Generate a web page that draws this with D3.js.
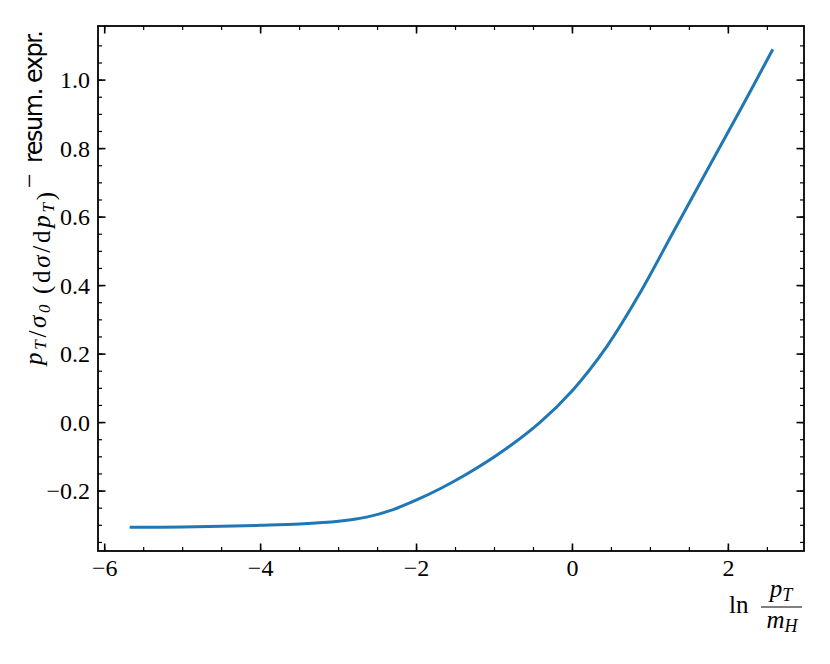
<!DOCTYPE html>
<html>
<head>
  <title>resum</title>
  <script src="https://d3js.org/d3.v7.min.js"></script>
  <style>
    body { margin: 0; background: #fff; }
  </style>
</head>
<body>
  <svg width="830" height="664" id="mainsvg" font-family="'Liberation Serif', serif"></svg>
  <script>
    // curve values
    const lnPt = [-5.68, -5.0, -4.5, -4.0, -3.5, -3.0, -2.64, -2.3, -2.0, -1.68, -1.36, -0.93, -0.42, 0.0, 0.44, 0.86, 1.29, 1.72, 2.15, 2.57];
    const diff = [-0.306, -0.305, -0.303, -0.300, -0.296, -0.288, -0.276, -0.254, -0.226, -0.191, -0.151, -0.089, 0.0, 0.094, 0.222, 0.376, 0.555, 0.734, 0.912, 1.09];
    const xTicks = [-6, -4, -2, 0, 2];
    const yTicks = [-0.2, 0.0, 0.2, 0.4, 0.6, 0.8, 1.0];

    const svg = d3.select('#mainsvg');
    const SERIF = "'Liberation Serif', serif";
    const mLeft = 98, mRight = 804, mTop = 26, mBottom = 551;

    const x = d3.scaleLinear().domain([-6.086, 2.97]).range([mLeft, mRight]);
    const y = d3.scaleLinear().domain([-0.375, 1.158]).range([mBottom, mTop]);

    const fmtX = d => d < 0 ? '\u2212' + Math.abs(d) : '' + d;
    const fmtY = d => (d < 0 ? '\u2212' : '') + Math.abs(d).toFixed(1);

    const xMinor = d3.range(-6, 3.0001, 0.5).filter(v => x(v) >= mLeft && x(v) <= mRight);
    const yMinor = d3.range(-0.35, 1.15, 0.05).filter(v => y(v) <= mBottom && y(v) >= mTop);

    // ticks, inward on all four sides
    const tickG = svg.append('g').attr('stroke', '#000');
    function ticks(vals, len, w) {
      vals.forEach(v => {
        const px = x(v);
        tickG.append('line').attr('x1', px).attr('x2', px).attr('y1', mBottom).attr('y2', mBottom - len).attr('stroke-width', w);
        tickG.append('line').attr('x1', px).attr('x2', px).attr('y1', mTop).attr('y2', mTop + len).attr('stroke-width', w);
      });
    }
    function yticks(vals, len, w) {
      vals.forEach(v => {
        const py = y(v);
        tickG.append('line').attr('y1', py).attr('y2', py).attr('x1', mLeft).attr('x2', mLeft + len).attr('stroke-width', w);
        tickG.append('line').attr('y1', py).attr('y2', py).attr('x1', mRight).attr('x2', mRight - len).attr('stroke-width', w);
      });
    }
    ticks(xMinor, 4, 1.2);
    ticks(xTicks, 7.5, 1.6);
    yticks(yMinor, 4, 1.2);
    yticks(yTicks, 7.5, 1.6);

    // curve
    const line = d3.line().x(d => x(d[0])).y(d => y(d[1])).curve(d3.curveCatmullRom.alpha(0.5));
    svg.append('path')
      .datum(d3.zip(lnPt, diff))
      .attr('d', line)
      .attr('fill', 'none')
      .attr('stroke', '#1f77b4')
      .attr('stroke-width', 3);

    // frame
    svg.append('rect')
      .attr('x', mLeft).attr('y', mTop)
      .attr('width', mRight - mLeft).attr('height', mBottom - mTop)
      .attr('fill', 'none').attr('stroke', '#000').attr('stroke-width', 1.8);

    // tick labels
    svg.append('g').selectAll('text').data(xTicks).join('text')
      .attr('x', d => x(d)).attr('y', 576)
      .attr('text-anchor', 'middle')
      .attr('font-family', SERIF)
      .attr('font-size', 24)
      .text(fmtX);
    svg.append('g').selectAll('text').data(yTicks).join('text')
      .attr('x', 90).attr('y', d => y(d) + 8)
      .attr('text-anchor', 'end')
      .attr('font-family', SERIF)
      .attr('font-size', 24)
      .text(fmtY);

    // y label, serif math part
    const yl = svg.append('text')
      .attr('transform', 'translate(42,365) rotate(-90)')
      .attr('font-family', SERIF)
      .attr('font-size', 25)
      .attr('textLength', 173)
      .attr('lengthAdjust', 'spacing');
    const it = (s) => yl.append('tspan').attr('font-style', 'italic').text(s);
    const rm = (s) => yl.append('tspan').text(s);
    const sub = (s) => {
      yl.append('tspan').attr('font-style', 'italic').attr('font-size', 17).attr('dy', 4).text(s);
      yl.append('tspan').attr('dy', -4).text('');
    };
    it('p'); sub('T'); rm('/'); it('\u03c3'); sub('0');
    rm('\u2009(d'); it('\u03c3'); rm('/d'); it('p'); sub('T'); rm(')');

    svg.append('text')
      .attr('transform', 'translate(38,188) rotate(-90)')
      .attr('font-family', SERIF).attr('font-size', 26)
      .text('\u2212');
    svg.append('text')
      .attr('transform', 'translate(42,163) rotate(-90)')
      .attr('font-family', "'DejaVu Sans', sans-serif").attr('font-size', 24)
      .attr('textLength', 133)
      .text('resum. expr.');

    // x label: ln p_T / m_H
    svg.append('text').attr('x', 729).attr('y', 613).attr('font-family', SERIF).attr('font-size', 25).text('ln');
    const num = svg.append('text').attr('x', 781).attr('y', 597).attr('text-anchor', 'middle')
      .attr('font-family', SERIF).attr('font-size', 25);
    num.append('tspan').attr('font-style', 'italic').text('p');
    num.append('tspan').attr('font-style', 'italic').attr('font-size', 18).attr('dy', 4).text('T');
    svg.append('line').attr('x1', 761).attr('x2', 802).attr('y1', 607).attr('y2', 607)
      .attr('stroke', '#000').attr('stroke-width', 1.2);
    const den = svg.append('text').attr('x', 782).attr('y', 628).attr('text-anchor', 'middle')
      .attr('font-family', SERIF).attr('font-size', 25);
    den.append('tspan').attr('font-style', 'italic').text('m');
    den.append('tspan').attr('font-style', 'italic').attr('font-size', 18).attr('dy', 4).text('H');
  </script>
</body>
</html>
